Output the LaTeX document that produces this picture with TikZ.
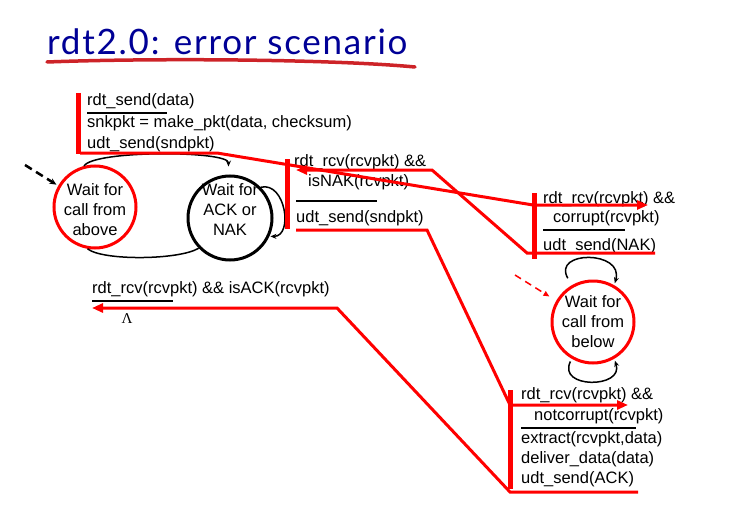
\documentclass[tikz,border=0pt]{standalone}
\usepackage{fontspec}
\setmainfont{Liberation Sans}
\newfontfamily\titlefont[LetterSpace=5]{Lato}
\newfontfamily\lamfont{Liberation Serif}
\usetikzlibrary{arrows.meta,positioning,calc}
\definecolor{titleblue}{RGB}{0,0,150}
\definecolor{brushred}{RGB}{205,35,40}

\begin{document}
\begin{tikzpicture}[x=1pt,y=-1pt,
    lbl/.style={anchor=base west, inner sep=0pt, font=\fontsize{16.5}{20}\selectfont},
    state/.style={circle, minimum size=82pt, inner sep=0pt, line width=3pt},
    stext/.style={align=center, inner sep=0pt, font=\fontsize{16.5}{20}\selectfont},
    redarrow/.style={red, line width=3pt, -{Triangle[length=11pt,width=9pt]}},
    bar/.style={red, line width=5pt},
    rule/.style={black, line width=2pt},
    loopar/.style={black, line width=1.5pt, -{Stealth[length=6pt,width=5pt]}}]
    \useasboundingbox (0,0) rectangle (741,508);

    % Title
    \node[anchor=base west, inner sep=0pt, text=titleblue,
          font=\titlefont\fontsize{35}{38}\selectfont] (title) at (47,55) {rdt2.0: error scenario};
    \draw[brushred, line width=3.5pt, line cap=round] (47,62) .. controls (150,58) and (330,59) .. (415,67);

    % States
    \node[state, draw=red, label={[stext, yshift=-3pt]center:Wait for\\call from\\above}] (above) at (95,207) {};
    \node[state, draw=black, minimum size=84pt, label={[stext, yshift=8pt]center:Wait for\\ACK or\\NAK}] (acknak) at (230,218) {};
    \node[state, draw=red, label={[stext]center:Wait for\\call from\\below}] (below) at (593,322) {};

    % Sender transitions
    \coordinate (start) at (25,165);
    \draw[black, line width=2.5pt, dash pattern=on 8pt off 5pt, -{Stealth[length=7pt,width=6pt]}, shorten >=2pt] (start) -- (above.150);
    \draw[loopar, shorten >=8pt] (above.105) .. controls +(10,-16) and +(0,-24) .. (acknak.92);
    \draw[black, line width=1.5pt] (acknak.224) .. controls +(-20,12) and +(15,12) .. (above.260);
    \draw[loopar, shorten >=1pt] (acknak.45) .. controls +(25,-6) and +(24,0) .. (acknak.-25);

    % Receiver transitions
    \coordinate (rstart) at (515,275);
    \draw[red, line width=1.5pt, dash pattern=on 7pt off 5pt, -{Triangle[length=6pt,width=5pt]}, shorten >=8pt] (rstart) -- (below.150);
    \draw[loopar, shorten <=8pt, shorten >=2pt] (below.120) .. controls +(-20,-35) and +(10,-35) .. (below.60);
    \draw[loopar, shorten <=3pt, shorten >=2pt] (below.-120) .. controls +(-15,30) and +(10,30) .. (below.-60);

    % Sender: send packet
    \node[lbl] (send1) at (87,106) {rdt\_send(data)};
    \draw[rule] (87,113) -- (167,113);
    \node[lbl] (send2) at (87,128) {snkpkt = make\_pkt(data, checksum)};
    \node[lbl] (send3) at (87,148) {udt\_send(sndpkt)};

    % Sender: NAK received
    \node[lbl] (nak1) at (294,166) {rdt\_rcv(rcvpkt) \&\&};
    \node[lbl] (nak2) at (308,186) {isNAK(rcvpkt)};
    \draw[rule] (296,201) -- (377,201);
    \node[lbl] (nak3) at (296,222) {udt\_send(sndpkt)};

    % Receiver: corrupt packet
    \node[lbl] (cor1) at (543,203) {rdt\_rcv(rcvpkt) \&\&};
    \node[lbl] (cor2) at (553,222) {corrupt(rcvpkt)};
    \draw[rule] (543,230) -- (625,230);
    \node[lbl] (cor3) at (543,250) {udt\_send(NAK)};

    % Receiver: good packet
    \node[lbl] (ok1) at (521,399) {rdt\_rcv(rcvpkt) \&\&};
    \node[lbl] (ok2) at (534,420) {notcorrupt(rcvpkt)};
    \draw[rule] (521,428) -- (636,428);
    \node[lbl] (ok3) at (521,443) {extract(rcvpkt,data)};
    \node[lbl] (ok4) at (521,463) {deliver\_data(data)};
    \node[lbl] (ok5) at (521,483) {udt\_send(ACK)};

    % Sender: ACK received
    \node[lbl] (ack1) at (92,293) {rdt\_rcv(rcvpkt) \&\& isACK(rcvpkt)};
    \draw[rule] (92,301) -- (173,301);
    \node[font=\lamfont\fontsize{15}{15}\selectfont, inner sep=0pt] (lam) at (127,319) {Λ};

    % Red scenario path
    \coordinate (a1) at (80,153);    \coordinate (a2) at (217,153);
    \coordinate (a3) at (533,205);   \coordinate (a4) at (648,205);
    \coordinate (b1) at (655,253);   \coordinate (b2) at (527,253);
    \coordinate (b3) at (432,170);   \coordinate (b4) at (296,170);
    \coordinate (c1) at (296,230);   \coordinate (c2) at (427,230);
    \coordinate (c3) at (510,405);   \coordinate (c4) at (628,405);
    \coordinate (d1) at (638,492);   \coordinate (d2) at (510,492);
    \coordinate (d3) at (337,308);   \coordinate (d4) at (92,308);
    \draw[redarrow] (a1) -- (a2) -- (a3) -- (a4);
    \draw[redarrow] (b1) -- (b2) -- (b3) -- (b4);
    \draw[redarrow] (c1) -- (c2) -- (c3) -- (c4);
    \draw[redarrow] (d1) -- (d2) -- (d3) -- (d4);
    \draw[bar] (78.5,93) -- (78.5,154);
    \draw[bar] (287.5,159) -- (287.5,229);
    \draw[bar] (534.5,193) -- (534.5,259);
    \draw[bar] (510.5,390) -- (510.5,489);

\end{tikzpicture}
\end{document}
